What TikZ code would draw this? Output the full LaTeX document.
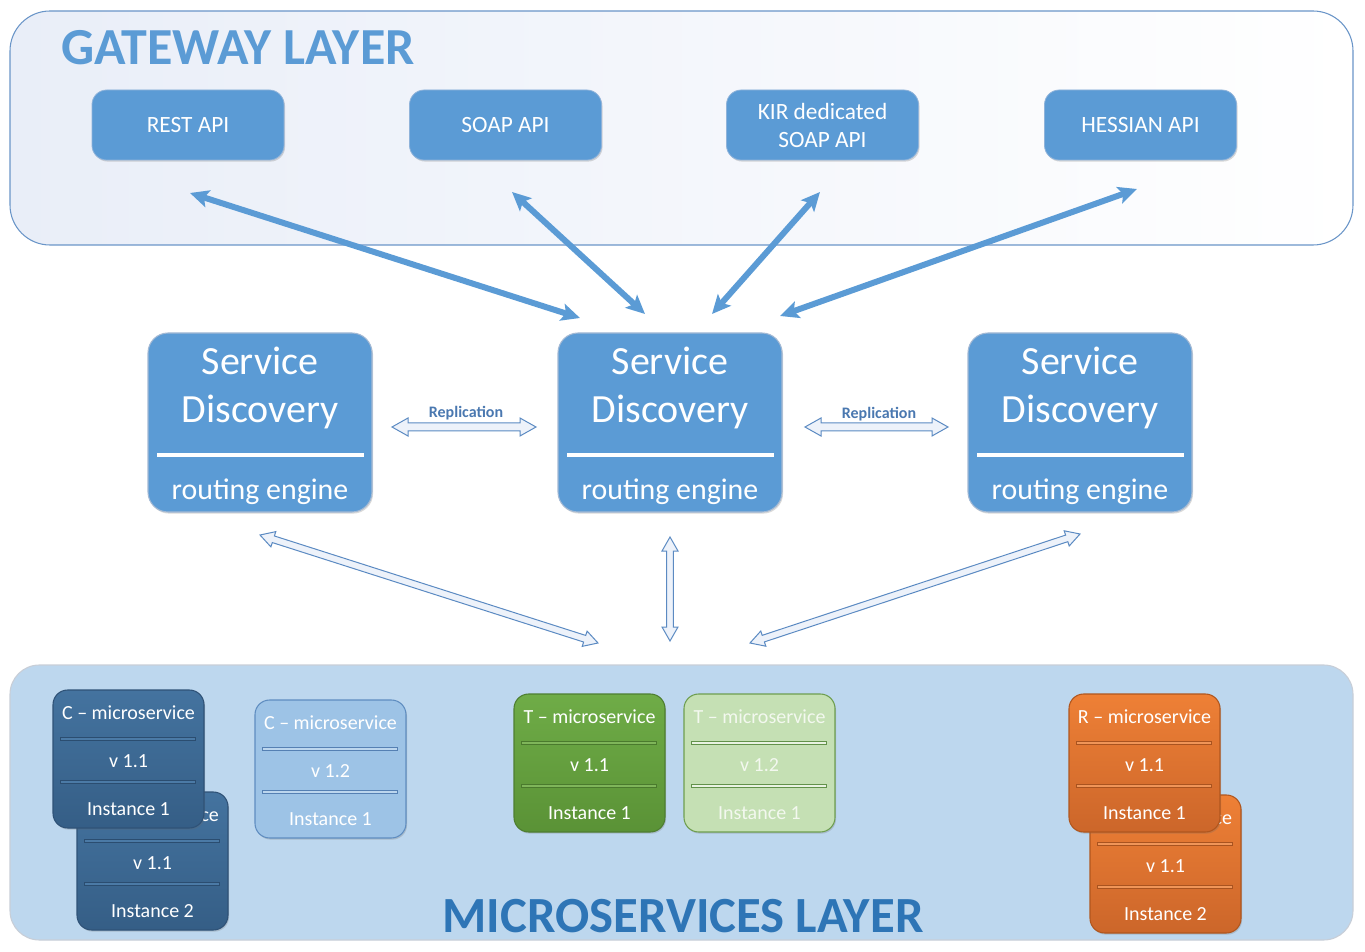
\documentclass[tikz,border=0pt]{standalone}
\usepackage{fontspec}
\setmainfont{Carlito}
\usetikzlibrary{calc,arrows.meta,shadows}

\definecolor{gwborder}{HTML}{6A95C8}
\definecolor{gwfillL}{HTML}{E9EEF8}
\definecolor{apiblue}{HTML}{5B9BD5}
\definecolor{apiborder}{HTML}{8FB3DA}
\definecolor{sdborder}{HTML}{A3B9D4}
\definecolor{titleA}{HTML}{5B9BD5}
\definecolor{titleB}{HTML}{2E75B6}
\definecolor{mslayer}{HTML}{BDD7EE}
\definecolor{mslayerb}{HTML}{C8CED7}
\definecolor{hollowline}{HTML}{5B8AC2}
\definecolor{hollowfill}{HTML}{EDF2FA}
\definecolor{repltext}{HTML}{4A78B0}
\definecolor{cdT}{HTML}{44739F}
\definecolor{cdB}{HTML}{355E86}
\definecolor{cdD}{HTML}{2F5277}
\definecolor{cdSd}{HTML}{2B4D70}
\definecolor{cdSf}{HTML}{4B7AA6}
\definecolor{clF}{HTML}{9DC3E6}
\definecolor{clD}{HTML}{5F8DC0}
\definecolor{clSd}{HTML}{5580B3}
\definecolor{clSf}{HTML}{BCD6EE}
\definecolor{tdT}{HTML}{6FAC47}
\definecolor{tdB}{HTML}{5A9236}
\definecolor{tdD}{HTML}{4E7E31}
\definecolor{tdSd}{HTML}{4A7A2D}
\definecolor{tdSf}{HTML}{7FB55A}
\definecolor{tlF}{HTML}{C5E0B4}
\definecolor{tlD}{HTML}{6E9E4F}
\definecolor{tlTx}{HTML}{F3F8EF}
\definecolor{tlSd}{HTML}{62924A}
\definecolor{tlSf}{HTML}{E9F3E2}
\definecolor{rdT}{HTML}{EE8036}
\definecolor{rdB}{HTML}{CC662A}
\definecolor{rdD}{HTML}{B0561E}
\definecolor{rdSd}{HTML}{A9531F}
\definecolor{rdSf}{HTML}{F09558}

\newcommand{\hollowarrow}[5]{%
  \draw[hollow] (#1)
   -- ($(#1)!#5!(#2)!#4!90:(#2)$) -- ($(#1)!#5!(#2)!#3!90:(#2)$)
   -- ($(#2)!#5!(#1)!#3!-90:(#1)$) -- ($(#2)!#5!(#1)!#4!-90:(#1)$)
   -- (#2)
   -- ($(#2)!#5!(#1)!#4!90:(#1)$) -- ($(#2)!#5!(#1)!#3!90:(#1)$)
   -- ($(#1)!#5!(#2)!#3!-90:(#2)$) -- ($(#1)!#5!(#2)!#4!-90:(#2)$)
   -- cycle;}

\newcommand{\msbox}[7]{%
  \node[msbox,#1] (#2) at ({#3+75.5},{#4+69}) {};
  \node[mstext,#1 txt] (#2-t) at ({#3+75.5},{#4+29}) {#5};
  \draw[#1 sep] ($(#2.north west)+(8,47.5)$) rectangle ($(#2.north west)+(143,50.5)$);
  \node[mstext,#1 txt] (#2-v) at ({#3+75.5},{#4+77}) {#6};
  \draw[#1 sep] ($(#2.north west)+(8,90.5)$) rectangle ($(#2.north west)+(143,93.5)$);
  \node[mstext,#1 txt] (#2-i) at ({#3+75.5},{#4+125}) {#7};}

\begin{document}
\begin{tikzpicture}[x=0.75pt,y=-0.75pt,
  softshadow/.style={drop shadow={shadow xshift=0.8pt,shadow yshift=-1.2pt,opacity=0.25,fill=black!60}},
  gwbox/.style={draw=gwborder,line width=0.8pt,rounded corners=30pt,left color=gwfillL,right color=white,
    minimum width=1007.25pt,minimum height=175.5pt,inner sep=0},
  mslbox/.style={draw=mslayerb,line width=0.8pt,rounded corners=22pt,fill=mslayer,
    minimum width=1007.25pt,minimum height=206.25pt,inner sep=0},
  layertitle/.style={inner sep=0},
  apibox/.style={fill=apiblue,draw=apiborder,line width=0.6pt,rounded corners=11pt,
    minimum width=144pt,minimum height=52.5pt,text=white,align=center,inner sep=0,
    font=\fontsize{17.5pt}{21pt}\selectfont,softshadow},
  sdbox/.style={fill=apiblue,draw=sdborder,line width=0.8pt,rounded corners=15pt,
    minimum width=168pt,minimum height=134.25pt,inner sep=0,softshadow},
  sdbig/.style={text=white,font=\fontsize{30pt}{34pt}\selectfont,anchor=base,inner sep=0},
  sdsmall/.style={text=white,font=\fontsize{22.4pt}{26pt}\selectfont,anchor=base,inner sep=0},
  sdsep/.style={draw=white,line width=3pt},
  repl/.style={font=\fontsize{12pt}{14pt}\selectfont\bfseries,text=repltext,inner sep=0},
  hollow/.style={draw=hollowline,line width=0.75pt,fill=hollowfill,line join=miter},
  thickarr/.style={draw=apiblue,line width=4.5pt,
    {Stealth[length=14pt,width=13pt,inset=3pt]}-{Stealth[length=14pt,width=13pt,inset=3pt]}},
  msbox/.style={minimum width=113.25pt,minimum height=103.5pt,rounded corners=11pt,
    line width=0.8pt,inner sep=0,softshadow},
  mstext/.style={font=\fontsize{15pt}{18pt}\selectfont,anchor=base,inner sep=0,text=white},
  cdark/.style={top color=cdT,bottom color=cdB,draw=cdD},
  cdark txt/.style={text=white},
  cdark sep/.style={draw=cdSd,fill=cdSf,line width=0.6pt},
  clight/.style={fill=clF,draw=clD},
  clight txt/.style={text=white},
  clight sep/.style={draw=clSd,fill=clSf,line width=0.6pt},
  tdark/.style={top color=tdT,bottom color=tdB,draw=tdD},
  tdark txt/.style={text=white},
  tdark sep/.style={draw=tdSd,fill=tdSf,line width=0.6pt},
  tlight/.style={fill=tlF,draw=tlD},
  tlight txt/.style={text=tlTx},
  tlight sep/.style={draw=tlSd,fill=tlSf,line width=0.6pt},
  rdark/.style={top color=rdT,bottom color=rdB,draw=rdD},
  rdark txt/.style={text=white},
  rdark sep/.style={draw=rdSd,fill=rdSf,line width=0.6pt}]

\useasboundingbox (0,0) rectangle (1365,952);

% gateway layer
\node[gwbox] (gw) at (681.5,128) {};
\node[layertitle,text=titleA,anchor=base west,font=\fontsize{39pt}{39pt}\selectfont\bfseries] (gwtitle) at (61,65) {GATEWAY LAYER};
\node[apibox] (rest) at (188,125) {REST API};
\node[apibox] (soap) at (505.5,125) {SOAP API};
\node[apibox] (kir) at (822.5,125) {KIR dedicated\\SOAP API};
\node[apibox] (hessian) at (1140.5,125) {HESSIAN API};

% service discovery
\foreach \nm/\cx in {sd1/260,sd2/670,sd3/1080}{
  \node[sdbox] (\nm) at (\cx,422.5) {};
  \node[sdbig] (\nm-a) at (\cx,375) {Service};
  \node[sdbig] (\nm-b) at (\cx,423) {Discovery};
  \draw[sdsep] ($(\nm.center)+(-103,32.5)$) -- ($(\nm.center)+(104,32.5)$);
  \node[sdsmall] (\nm-c) at (\cx,499) {routing engine};
}

% thick arrows gateway <-> discovery
\coordinate (t1a) at (190,193); \coordinate (t1b) at (580,318);
\coordinate (t2a) at (512,192); \coordinate (t2b) at (645,314);
\coordinate (t3a) at (820,192); \coordinate (t3b) at (712,314);
\coordinate (t4a) at (1137,189); \coordinate (t4b) at (780,316);
\draw[thickarr] (t1a) -- (t1b);
\draw[thickarr] (t2a) -- (t2b);
\draw[thickarr] (t3a) -- (t3b);
\draw[thickarr] (t4a) -- (t4b);

% replication arrows
\coordinate (r1a) at (392,427); \coordinate (r1b) at (536,427);
\coordinate (r2a) at (805,427); \coordinate (r2b) at (948,427);
\hollowarrow{r1a}{r1b}{3pt}{6.75pt}{12pt}
\hollowarrow{r2a}{r2b}{3pt}{6.75pt}{12pt}
\node[repl] (rep1) at (466,413) {Replication};
\node[repl] (rep2) at (879,414) {Replication};

% microservices layer
\node[mslbox] (msl) at (681.5,802.5) {};
\node[layertitle,text=titleB,anchor=base,font=\fontsize{38pt}{38pt}\selectfont\bfseries] (msltitle) at (683,932) {MICROSERVICES LAYER};

% discovery <-> microservices arrows
\coordinate (b1a) at (260,535); \coordinate (b1b) at (598,643);
\coordinate (b2a) at (670,537); \coordinate (b2b) at (670,641);
\coordinate (b3a) at (1080,534); \coordinate (b3b) at (750,643);
\hollowarrow{b1a}{b1b}{2.6pt}{6pt}{10.5pt}
\hollowarrow{b2a}{b2b}{2.6pt}{6pt}{10.5pt}
\hollowarrow{b3a}{b3b}{2.6pt}{6pt}{10.5pt}

% microservice boxes
\msbox{cdark}{c2}{77}{792}{C – microservice}{v 1.1}{Instance 2}
\msbox{cdark}{c1}{53}{690}{C – microservice}{v 1.1}{Instance 1}
\msbox{clight}{c3}{255}{700}{C – microservice}{v 1.2}{Instance 1}
\msbox{tdark}{tm1}{514}{694}{T – microservice}{v 1.1}{Instance 1}
\msbox{tlight}{tm2}{684}{694}{T – microservice}{v 1.2}{Instance 1}
\msbox{rdark}{rm2}{1090}{795}{R – microservice}{v 1.1}{Instance 2}
\msbox{rdark}{rm1}{1069}{694}{R – microservice}{v 1.1}{Instance 1}

\end{tikzpicture}
\end{document}
